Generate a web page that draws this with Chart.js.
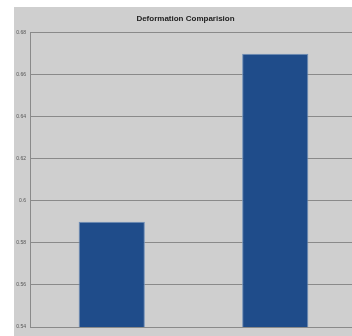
<!DOCTYPE html>
<html>
<head>
<meta charset="utf-8">
<script src="https://cdn.jsdelivr.net/npm/chart.js@4"></script>
<style>
  html, body { margin: 0; padding: 0; background: #ffffff; overflow: hidden; }
  #wrap { position: absolute; left: 14px; top: 7px; width: 343px; height: 329px; background: #cfcfcf; }
</style>
</head>
<body>
<div id="wrap"><canvas id="chart"></canvas></div>
<script>
const categories = ["1", "2"];
const deformation = [0.59, 0.67];
const yTicks = [0.54, 0.56, 0.58, 0.6, 0.62, 0.64, 0.66, 0.68];

const ctx = document.getElementById("chart").getContext("2d");

// chart
new Chart(ctx, {
  type: "bar",
  data: {
    labels: categories,
    datasets: [
      {
        label: "Deformation",
        data: deformation,
        backgroundColor: "#1f4c8a",
        borderColor: "#6f8fb8",
        borderWidth: 1,
        borderSkipped: false,
        categoryPercentage: 1,
        barPercentage: 0.405,
      },
    ],
  },
  options: {
    responsive: true,
    maintainAspectRatio: false,
    animation: false,
    layout: { padding: { left: 0, right: 0, top: 0, bottom: 0 } },
    plugins: {
      legend: { display: false },
      tooltip: { enabled: false },
      title: {
        display: true,
        text: "Deformation Comparision",
        color: "#222222",
        font: { family: "Liberation Sans", size: 8, weight: "bold" },
        padding: { top: 7, bottom: 9 },
      },
    },
    scales: {
      x: {
        grid: { display: false },
        border: { display: true, color: "#8a8a8a", width: 1 },
        ticks: {
          color: "#555555",
          padding: 1,
          font: { family: "Liberation Sans", size: 4 },
        },
        afterFit: (axis) => { axis.height = 9; },
      },
      y: {
        min: 0.54,
        max: 0.68,
        afterBuildTicks: (axis) => {
          axis.ticks = yTicks.map((v) => ({ value: v }));
        },
        grid: { color: "#8a8a8a", lineWidth: 1, drawTicks: false },
        border: { display: true, color: "#8a8a8a", width: 1 },
        ticks: {
          color: "#555555",
          padding: 4,
          font: { family: "Liberation Sans", size: 5 },
          callback: (v) => String(Math.round(v * 100) / 100),
        },
        afterFit: (axis) => { axis.width = 16; },
      },
    },
  },
});
</script>
</body>
</html>
